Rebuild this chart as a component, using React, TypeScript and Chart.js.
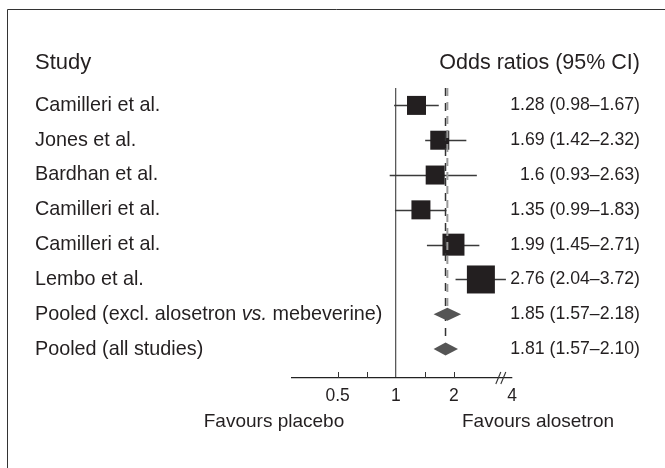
import React, { useEffect, useRef } from 'react';
import { Chart, registerables } from 'chart.js';

Chart.register(...registerables);

// ---- Data ----
const STUDIES = ['Camilleri et al.', 'Jones et al.', 'Bardhan et al.', 'Camilleri et al.', 'Camilleri et al.', 'Lembo et al.'];
const STUDY_OR = [1.28, 1.69, 1.6, 1.35, 1.99, 2.76];
const STUDY_LOW = [0.98, 1.42, 0.93, 0.99, 1.45, 2.04];
const STUDY_HIGH = [1.67, 2.32, 2.63, 1.83, 2.71, 3.72];
const STUDY_TEXT = ['1.28 (0.98–1.67)', '1.69 (1.42–2.32)', '1.6 (0.93–2.63)', '1.35 (0.99–1.83)', '1.99 (1.45–2.71)', '2.76 (2.04–3.72)'];

const POOLED = ['Pooled (excl. alosetron vs. mebeverine)', 'Pooled (all studies)'];
const POOLED_OR = [1.85, 1.81];
const POOLED_LOW = [1.57, 1.57];
const POOLED_HIGH = [2.18, 2.1];
const POOLED_TEXT = ['1.85 (1.57–2.18)', '1.81 (1.57–2.10)'];

const TICK_VALUES = [0.5, 0.71, 1, 1.41, 2, 4];
const TICK_LABELS = ['0.5', '', '1', '', '2', '4'];
const BREAK_VALUE = 3.5;

const HEADER_LEFT = 'Study';
const HEADER_RIGHT = 'Odds ratios (95% CI)';
const FAVOURS_LEFT = 'Favours placebo';
const FAVOURS_RIGHT = 'Favours alosetron';

// ---- Styles ----
const FONT = '"Liberation Sans", Arial, Helvetica, sans-serif';
const INK = '#231f20';
const MARKER_SIDES = [19, 19, 19, 19, 22, 28];
const POOLED_DASH_COLORS = ['#9a9a9a', '#333333'];
const POOLED_DASH_WIDTHS = [2, 1.5];

const ALL_ROWS = STUDIES.length + POOLED.length;

function drawLabel(ctx: CanvasRenderingContext2D, text: string, x: number, y: number, size: number) {
  const parts = text.split(/(vs\.)/);
  let cx = x;
  for (const p of parts) {
    if (!p) continue;
    ctx.font = (p === 'vs.' ? 'italic ' : '') + size + 'px ' + FONT;
    ctx.fillText(p, cx, y);
    cx += ctx.measureText(p).width;
  }
}

const forestPlugin = {
  id: 'forest',
  beforeDatasetsDraw(chart: any) {
    const { ctx } = chart;
    const xs = chart.scales.x;
    const ys = chart.scales.y;
    ctx.save();
    ctx.strokeStyle = '#3a3a3a';
    ctx.lineWidth = 1.4;
    STUDY_LOW.forEach((lo, i) => {
      const py = Math.round(ys.getPixelForValue(i)) + 0.5;
      ctx.beginPath();
      ctx.moveTo(xs.getPixelForValue(lo), py);
      ctx.lineTo(xs.getPixelForValue(STUDY_HIGH[i]), py);
      ctx.stroke();
    });
    ctx.restore();
  },
  afterDatasetsDraw(chart: any) {
    const { ctx } = chart;
    const xs = chart.scales.x;
    const ys = chart.scales.y;
    ctx.save();
    ctx.fillStyle = '#555555';
    POOLED_OR.forEach((v, j) => {
      const py = ys.getPixelForValue(STUDIES.length + j);
      const h = 6.5;
      ctx.beginPath();
      ctx.moveTo(xs.getPixelForValue(POOLED_LOW[j]), py);
      ctx.lineTo(xs.getPixelForValue(v), py - h);
      ctx.lineTo(xs.getPixelForValue(POOLED_HIGH[j]), py);
      ctx.lineTo(xs.getPixelForValue(v), py + h);
      ctx.closePath();
      ctx.fill();
    });
    ctx.restore();
  },
  afterDraw(chart: any) {
    const { ctx, chartArea } = chart;
    const xs = chart.scales.x;
    const ys = chart.scales.y;
    const W = chart.width;
    const H = chart.height;
    ctx.save();
    // frame
    ctx.strokeStyle = '#333';
    ctx.lineWidth = 1;
    ctx.beginPath();
    ctx.moveTo(7.5, H);
    ctx.lineTo(7.5, 9.5);
    ctx.lineTo(W, 9.5);
    ctx.stroke();

    // upward tick marks
    const axisY = chartArea.bottom;
    ctx.strokeStyle = '#333';
    ctx.lineWidth = 1;
    TICK_VALUES.forEach((v) => {
      if (v === 1 || v === 4) return;
      const px = Math.round(xs.getPixelForValue(v)) + 0.5;
      ctx.beginPath();
      ctx.moveTo(px, axisY);
      ctx.lineTo(px, axisY - 6);
      ctx.stroke();
    });
    // axis break
    const bx = xs.getPixelForValue(BREAK_VALUE);
    ctx.lineWidth = 1.1;
    [-2.5, 2.5].forEach((dx) => {
      ctx.beginPath();
      ctx.moveTo(bx + dx - 2.5, axisY + 6);
      ctx.lineTo(bx + dx + 2.5, axisY - 6);
      ctx.stroke();
    });

    // texts
    ctx.fillStyle = INK;
    ctx.textBaseline = 'middle';
    const leftX = 35;
    const rightX = 640;
    const headerY = chartArea.top - 25;
    ctx.textAlign = 'left';
    ctx.font = '22px ' + FONT;
    ctx.fillText(HEADER_LEFT, leftX, headerY);
    ctx.textAlign = 'right';
    ctx.font = '21.5px ' + FONT;
    ctx.fillText(HEADER_RIGHT, rightX, headerY);

    const names = [...STUDIES, ...POOLED];
    const texts = [...STUDY_TEXT, ...POOLED_TEXT];
    names.forEach((n, i) => {
      const py = ys.getPixelForValue(i);
      ctx.textAlign = 'left';
      drawLabel(ctx, n, leftX, py, 19.8);
      ctx.textAlign = 'right';
      ctx.font = '17.7px ' + FONT;
      ctx.fillText(texts[i], rightX, py);
    });

    ctx.textAlign = 'center';
    ctx.font = '19px ' + FONT;
    const favY = 422;
    ctx.fillText(FAVOURS_LEFT, 274, favY);
    ctx.fillText(FAVOURS_RIGHT, 538, favY);
    ctx.restore();
  },
};

export default function App() {
  const ref = useRef<HTMLCanvasElement | null>(null);
  useEffect(() => {
    if (!ref.current) return;
    const poolRows = POOLED_OR.map((_, j) => STUDIES.length + j);
    const chart = new Chart(ref.current, {
      type: 'scatter',
      data: {
        datasets: [
          ...POOLED_OR.map((v, j) => ({
            type: 'scatter' as const,
            label: POOLED[j],
            data: [
              { x: v, y: -0.5 },
              { x: v, y: poolRows[j] - 0.2 },
            ],
            showLine: true,
            borderColor: POOLED_DASH_COLORS[j],
            borderWidth: POOLED_DASH_WIDTHS[j],
            borderDash: j === 0 ? [8, 6] : [8, 7],
            pointRadius: 0,
          })),
          {
            label: 'Studies',
            data: STUDY_OR.map((v, i) => ({ x: v, y: i })),
            pointStyle: 'rect',
            pointRadius: MARKER_SIDES.map((s) => s / Math.SQRT2),
            pointHoverRadius: MARKER_SIDES.map((s) => s / Math.SQRT2),
            backgroundColor: INK,
            borderWidth: 0,
          },
        ],
      },
      options: {
        responsive: false,
        animation: false,
        devicePixelRatio: 1,
        layout: { padding: { left: 292, right: 153, top: 88, bottom: 0 } },
        plugins: { legend: { display: false }, tooltip: { enabled: false } },
        events: [],
        scales: {
          x: {
            type: 'logarithmic',
            min: 0.29,
            max: 4,
            afterBuildTicks: (scale: any) => {
              scale.ticks = TICK_VALUES.map((v) => ({ value: v }));
            },
            afterFit: (scale: any) => {
              scale.height = 90;
            },
            ticks: {
              autoSkip: false,
              maxRotation: 0,
              padding: 8,
              color: INK,
              font: { family: FONT, size: 17.5 },
              callback: (_v: any, idx: number) => TICK_LABELS[idx],
            },
            grid: {
              display: true,
              drawTicks: false,
              drawOnChartArea: true,
              color: (c: any) => (c.tick && c.tick.value === 1 ? '#5a5a5a' : 'rgba(0,0,0,0)'),
              lineWidth: 1.3,
            },
            border: { display: true, color: '#222', width: 1.2 },
          },
          y: {
            type: 'linear',
            reverse: true,
            min: -0.5,
            max: ALL_ROWS - 0.17,
            display: false,
          },
        },
      },
      plugins: [forestPlugin],
    } as any);
    return () => chart.destroy();
  }, []);
  return (
    <div style={{ position: 'absolute', left: 0, top: 0, width: 665, height: 468, background: '#fff' }}>
      <canvas ref={ref} width={665} height={468} style={{ display: 'block', width: 665, height: 468 }} />
    </div>
  );
}
